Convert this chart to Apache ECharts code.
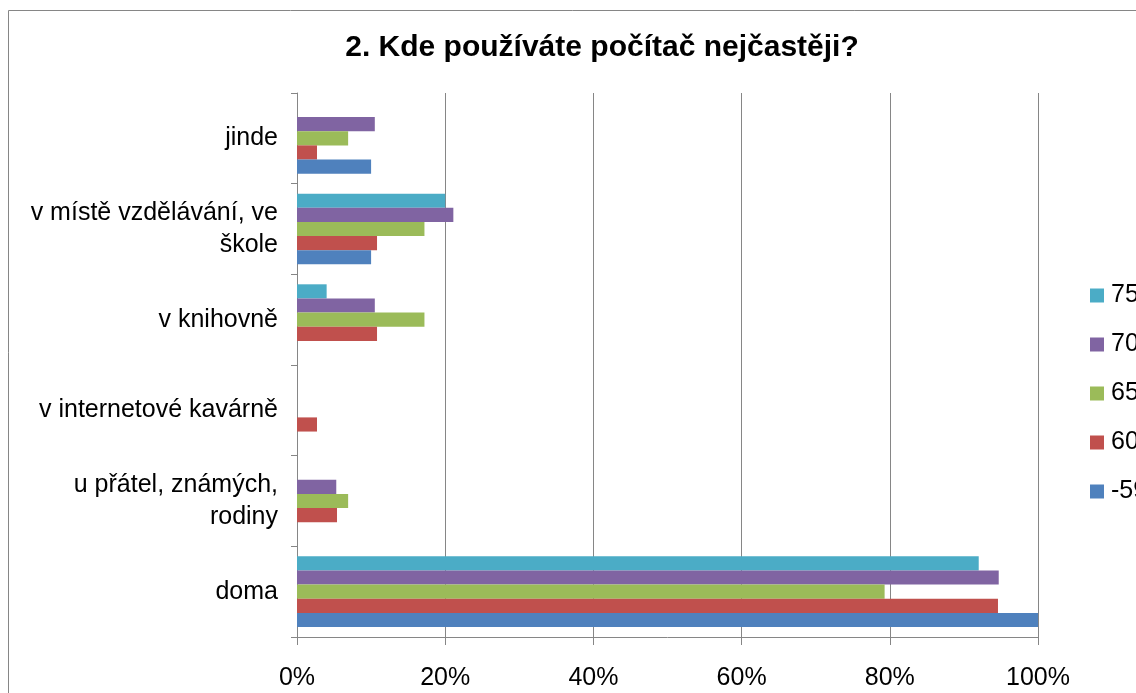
<!DOCTYPE html>
<html>
<head>
<meta charset="utf-8">
<script src="https://cdn.jsdelivr.net/npm/echarts@6/dist/echarts.min.js"></script>
<style>
html,body{margin:0;padding:0;background:#fff;}
#chart{width:1136px;height:693px;}
</style>
</head>
<body>
<div id="chart"></div>
<script>
// Places where the computer is used most (bottom to top on the axis)
const categories = ['doma', 'u přátel, známých,\nrodiny', 'v internetové kavárně', 'v knihovně', 'v místě vzdělávání, ve\nškole', 'jinde'];
// Age groups (top bar of each group first), share of respondents in %
const seriesNames = ['75+', '70-74', '65-69', '60-64', '-59'];
const age75 = [92, 0, 0, 4, 20, 0];
const age70 = [94.7, 5.3, 0, 10.5, 21.1, 10.5];
const age65 = [79.3, 6.9, 0, 17.2, 17.2, 6.9];
const age60 = [94.6, 5.4, 2.7, 10.8, 10.8, 2.7];
const age59 = [100, 0, 0, 0, 10, 10];
const colors = ['#4BACC6', '#8064A2', '#9BBB59', '#C0504D', '#4F81BD'];
const xTicks = [0, 20, 40, 60, 80, 100];

const values = [age75, age70, age65, age60, age59];
const font = '"Liberation Sans", Arial, sans-serif';

const chart = echarts.init(document.getElementById('chart'));
chart.setOption({
  animation: false,
  color: colors,
  title: {
    text: '2. Kde používáte počítač nejčastěji?',
    left: 597, textAlign: 'center', top: 28,
    textStyle: { fontFamily: font, fontWeight: 'bold', fontSize: 30, color: '#000' }
  },
  graphic: [{
    type: 'rect', shape: { x: 8.5, y: 10.5, width: 1200, height: 800 },
    style: { fill: 'none', stroke: '#868686', lineWidth: 1 }, silent: true, z: -1
  }],
  legend: {
    orient: 'vertical', left: 1085, top: 278,
    itemWidth: 14, itemHeight: 14, itemGap: 24,
    data: seriesNames,
    icon: 'rect',
    textStyle: { fontFamily: font, fontSize: 25, color: '#000', padding: [0, 0, 0, 2] }
  },
  grid: { left: 297, right: 98, top: 93, bottom: 56, containLabel: false },
  xAxis: {
    type: 'value', min: xTicks[0], max: xTicks[xTicks.length - 1], interval: 20,
    axisLine: { show: true, lineStyle: { color: '#868686', width: 1 } },
    axisTick: { show: true, length: 8, lineStyle: { color: '#868686' } },
    splitLine: { show: true, lineStyle: { color: '#868686', width: 1 } },
    axisLabel: { formatter: '{value}%', margin: 29, fontFamily: font, fontSize: 25, color: '#000' }
  },
  yAxis: {
    type: 'category', data: categories,
    axisLine: { show: true, lineStyle: { color: '#868686', width: 1 } },
    axisTick: { show: true, length: 6, lineStyle: { color: '#868686' } },
    axisLabel: { margin: 19, fontFamily: font, fontSize: 25, color: '#000', lineHeight: 32, align: 'right' }
  },
  series: seriesNames.map((name, i) => ({
    name: name, type: 'bar', data: values[i],
    barGap: '0%', barCategoryGap: '22%',
    itemStyle: { color: colors[i] }
  }))
});
</script>
</body>
</html>
